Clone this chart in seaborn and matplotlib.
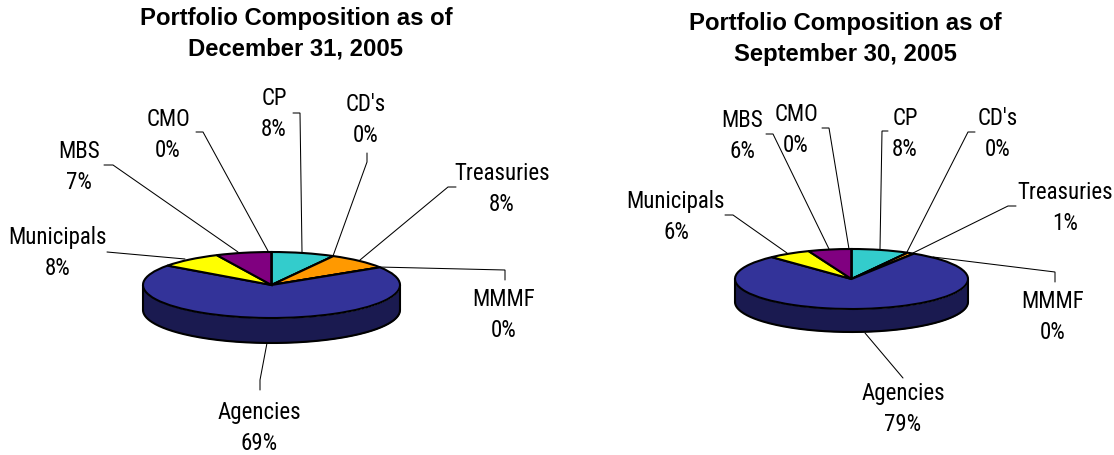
"""
Portfolio composition, two 3-D style pies side by side.
"""

import numpy as np
import matplotlib
matplotlib.use("Agg")
import matplotlib.pyplot as plt
import seaborn as sns

# ── Data ──────────────────────────────────────────────────
categories = ["CP", "CD's", "Treasuries", "MMMF", "Agencies", "Municipals", "MBS", "CMO"]
dec_values = [8, 0, 8, 0, 69, 8, 7, 0]
sep_values = [8, 0, 1, 0, 79, 6, 6, 0]
dec_title = "Portfolio Composition as of\nDecember 31, 2005"
sep_title = "Portfolio Composition as of\nSeptember 30, 2005"

# ── Style ─────────────────────────────────────────────────
sns.set_theme(style="white")
plt.rcParams["font.family"] = ["Roboto Condensed", "Liberation Sans", "DejaVu Sans"]
COLORS = sns.color_palette(
    ["#33CCCC", "#FFFFFF", "#FF9900", "#FFFFCC", "#333399", "#FFFF00", "#800080", "#00FFFF"]
)
SIDE = "#1A1A50"
W, H = 1114, 455

# ── Layout, in image pixels ───────────────────────────────
dec_pie = dict(cx=271.5, cy=285, rx=128.5, ry=33, depth=25)
sep_pie = dict(cx=851.5, cy=279, rx=116.5, ry=30, depth=23)

dec_labels = {
    "CP": (274, 114), "CD's": (366, 120), "Treasuries": (502, 189), "MMMF": (504, 315),
    "Agencies": (259, 428), "Municipals": (58, 253), "MBS": (79, 167), "CMO": (168, 135),
}
sep_labels = {
    "CP": (905, 134), "CD's": (998, 134), "Treasuries": (1065, 208), "MMMF": (1053, 317),
    "Agencies": (903, 409), "Municipals": (676, 217), "MBS": (742, 136), "CMO": (796, 130),
}
dec_leaders = [
    [(293, 113), (300, 113), (302, 252)],
    [(367, 153), (367, 162), (333, 256)],
    [(456, 187), (448, 187), (360, 260)],
    [(505, 280), (505, 270), (378, 267)],
    [(260, 390), (260, 380), (267, 343)],
    [(107, 252), (185, 259)],
    [(104, 165), (113, 165), (238, 252)],
    [(196, 132), (203, 132), (268, 251)],
]
sep_leaders = [
    [(888, 131), (882, 131), (880, 249)],
    [(975, 132), (968, 132), (907, 252)],
    [(1016, 206), (1008, 206), (913, 253)],
    [(1055, 282), (1055, 272), (933, 257)],
    [(903, 378), (865, 333)],
    [(725, 215), (733, 215), (787, 253)],
    [(766, 134), (773, 134), (829, 249)],
    [(822, 128), (829, 128), (849, 249)],
]


def draw_pie(fig, values, pie):
    # pie() spans +-1.25 in data units, so the axes box sets the squash
    w, h = 2.5 * pie["rx"], 2.5 * pie["ry"]
    ax = fig.add_axes([
        (pie["cx"] - w / 2) / W, 1 - (pie["cy"] + h / 2) / H, w / W, h / H,
    ])
    ax.pie(
        values, colors=COLORS, startangle=90, counterclock=False,
        wedgeprops=dict(edgecolor="black", linewidth=1.5, zorder=3),
    )
    ax.set_aspect("auto")
    ax.set_xlim(-1.25, 1.25)
    ax.set_ylim(-1.25, 1.25)

    # side wall under the front half
    drop = pie["depth"] / pie["ry"]
    t = np.linspace(np.pi, 2 * np.pi, 200)
    ax.fill_between(np.cos(t), np.sin(t) - drop, np.sin(t), color=SIDE, lw=0, clip_on=False, zorder=1)
    ax.plot(np.cos(t), np.sin(t) - drop, color="black", lw=1.5, clip_on=False, zorder=2)
    ax.plot([-1, -1], [0, -drop], color="black", lw=1.5, clip_on=False, zorder=2)
    ax.plot([1, 1], [0, -drop], color="black", lw=1.5, clip_on=False, zorder=2)


def annotate(overlay, values, labels, leaders, title, title_x, title_y):
    overlay.text(
        title_x, title_y, title, ha="center", va="center", fontsize=17.2, fontweight="bold",
        family=["Liberation Sans", "DejaVu Sans"], linespacing=1.43, color="black",
    )
    for cat, val in zip(categories, values):
        x, y = labels[cat]
        overlay.text(x, y, f"{cat}\n{val}%", ha="center", va="center", fontsize=16.5,
                     linespacing=1.4, color="black")
    for pts in leaders:
        xs, ys = zip(*pts)
        overlay.plot(xs, ys, color="black", lw=0.75, solid_joinstyle="miter")


fig = plt.figure(figsize=(W / 100, H / 100), dpi=100, facecolor="white")

draw_pie(fig, dec_values, dec_pie)
draw_pie(fig, sep_values, sep_pie)

overlay = fig.add_axes([0, 0, 1, 1], facecolor="none")
overlay.set_xlim(0, W)
overlay.set_ylim(H, 0)
overlay.axis("off")
annotate(overlay, dec_values, dec_labels, dec_leaders, dec_title, 296, 34)
annotate(overlay, sep_values, sep_labels, sep_leaders, sep_title, 845, 39)

fig.savefig("out.png", dpi=100)
plt.close(fig)
